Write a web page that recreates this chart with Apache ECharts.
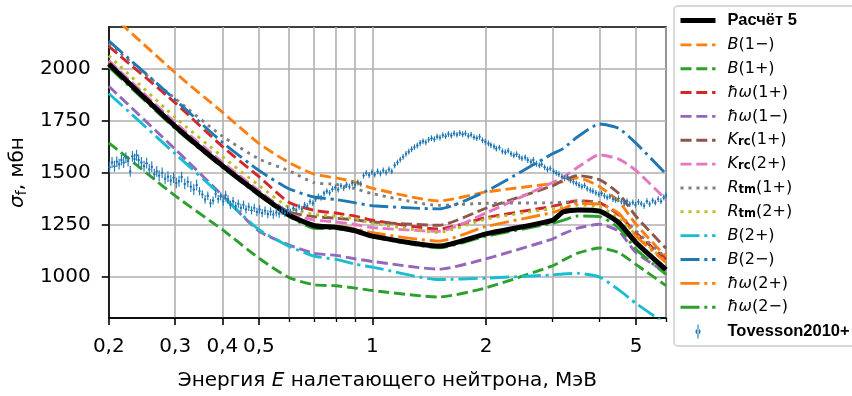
<!DOCTYPE html>
<html><head><meta charset="utf-8">
<script src="https://cdn.jsdelivr.net/npm/echarts@6/dist/echarts.min.js"></script>
<style>html,body{margin:0;padding:0;background:#fff}#c{width:852px;height:396px}</style>
</head><body><div id="c"></div>
<script>
// ---- data (energy in MeV, cross-section in mb) ----
const energy = [0.2, 0.3, 0.4, 0.5, 0.6, 0.7, 0.8, 0.9, 1.0, 1.5, 2, 3, 3.2, 3.5, 4, 4.5, 5, 6];
const calc5  = [2022, 1722, 1533, 1398, 1296, 1244, 1237, 1220, 1194, 1146, 1205, 1270, 1310, 1320, 1314, 1258, 1162, 1033];
const b1m    = [2270, 1980, 1790, 1640, 1548, 1492, 1474, 1454, 1424, 1363, 1406, 1447, 1456, 1474, 1432, 1360, 1250, 1095];
const b1p    = [1643, 1388, 1225, 1088, 995, 960, 955, 944, 932, 901, 945, 1051, 1078, 1112, 1137, 1114, 1057, 956];
const hw1p   = [2107, 1835, 1625, 1480, 1357, 1318, 1305, 1290, 1270, 1228, 1283, 1337, 1350, 1364, 1354, 1296, 1209, 1082];
const hw1m   = [1915, 1612, 1390, 1218, 1152, 1111, 1101, 1085, 1072, 1035, 1085, 1180, 1205, 1232, 1251, 1217, 1114, 1019];
const krc1p  = [2032, 1735, 1545, 1410, 1310, 1288, 1280, 1272, 1262, 1246, 1328, 1436, 1462, 1485, 1465, 1398, 1288, 1135];
const krc2p  = [2038, 1740, 1550, 1412, 1302, 1272, 1262, 1250, 1235, 1217, 1305, 1452, 1477, 1525, 1585, 1564, 1509, 1370];
const rtm1p  = [2120, 1855, 1675, 1565, 1509, 1451, 1443, 1422, 1398, 1342, 1352, 1354, 1357, 1360, 1352, 1300, 1218, 1090];
const rtm2p  = [2062, 1765, 1576, 1438, 1333, 1298, 1290, 1278, 1256, 1212, 1276, 1327, 1335, 1343, 1335, 1280, 1200, 1070];
const b2p    = [1880, 1590, 1385, 1225, 1146, 1098, 1082, 1059, 1045, 985, 992, 1007, 1012, 1015, 997, 935, 870, 770];
const b2m    = [2133, 1850, 1645, 1510, 1422, 1382, 1370, 1354, 1340, 1325, 1410, 1590, 1615, 1672, 1733, 1712, 1640, 1493];
const hw2p   = [2025, 1725, 1537, 1402, 1300, 1250, 1242, 1230, 1210, 1170, 1240, 1307, 1325, 1351, 1348, 1303, 1193, 1067];
const hw2m   = [2008, 1712, 1525, 1390, 1290, 1232, 1230, 1215, 1190, 1138, 1193, 1256, 1270, 1291, 1288, 1232, 1130, 1010];

// Tovesson2010+ : [E, sigma, error]
const tovesson = [
[0.201,1525,26],[0.204,1548,26],[0.207,1530,26],[0.210,1552,26],[0.213,1540,26],[0.216,1560,26],[0.219,1548,26],[0.222,1572,26],
[0.225,1555,26],[0.228,1505,26],[0.231,1578,26],[0.234,1565,26],[0.237,1583,26],[0.240,1560,26],[0.244,1548,26],[0.248,1530,26],
[0.252,1545,26],[0.256,1515,26],[0.260,1528,26],[0.264,1492,26],[0.268,1505,26],[0.272,1485,26],[0.277,1498,26],[0.282,1470,26],
[0.287,1480,26],[0.292,1462,26],[0.297,1475,26],[0.302,1450,26],[0.307,1458,26],[0.312,1478,26],[0.318,1445,26],[0.324,1455,26],
[0.330,1432,26],[0.336,1418,26],[0.342,1440,26],[0.348,1410,20],[0.354,1395,20],[0.360,1370,20],[0.366,1388,20],[0.372,1352,20],
[0.378,1365,20],[0.384,1398,20],[0.390,1372,20],[0.396,1385,20],[0.402,1360,20],[0.408,1392,20],[0.414,1370,20],[0.420,1345,20],
[0.427,1362,20],[0.434,1338,20],[0.441,1350,20],[0.448,1330,20],[0.455,1345,20],[0.462,1322,20],[0.470,1335,20],[0.478,1318,20],
[0.486,1330,20],[0.494,1310,20],[0.502,1322,20],[0.510,1305,20],[0.519,1316,20],[0.528,1300,20],[0.537,1312,20],[0.546,1298,20],
[0.556,1308,20],[0.566,1302,20],[0.576,1315,20],[0.586,1306,20],[0.596,1320,20],[0.606,1312,14],[0.617,1328,14],[0.628,1318,14],
[0.639,1335,14],[0.650,1326,14],[0.661,1345,14],[0.672,1338,14],[0.683,1360,14],[0.695,1352,14],[0.707,1372,14],[0.719,1385,14],
[0.731,1378,14],[0.744,1400,14],[0.757,1410,14],[0.770,1402,14],[0.783,1420,14],[0.797,1428,14],[0.811,1418,14],[0.825,1436,14],
[0.839,1425,14],[0.854,1442,14],[0.869,1432,14],[0.884,1448,14],[0.899,1440,14],[0.915,1452,14],[0.931,1445,14],[0.947,1485,14],
[0.963,1498,14],[0.980,1488,14],[0.997,1502,14],[1.014,1490,14],[1.032,1505,14],[1.050,1495,14],[1.068,1510,14],[1.087,1500,14],
[1.106,1515,14],[1.125,1505,14],[1.145,1535,14],[1.165,1548,14],[1.185,1562,14],[1.206,1575,14],[1.227,1590,14],[1.248,1600,14],
[1.270,1612,14],[1.292,1622,14],[1.315,1630,14],[1.338,1642,14],[1.361,1650,14],[1.385,1645,14],[1.409,1658,14],[1.434,1665,14],
[1.459,1660,14],[1.484,1672,14],[1.510,1668,14],[1.536,1680,14],[1.563,1675,14],[1.590,1685,14],[1.618,1678,14],[1.646,1688,14],
[1.675,1682,14],[1.704,1690,14],[1.734,1684,14],[1.764,1688,14],[1.795,1676,14],[1.826,1682,14],[1.858,1670,14],[1.890,1665,14],
[1.923,1672,14],[1.957,1655,14],[1.991,1648,14],[2.03,1640,14],[2.06,1632,14],[2.10,1625,14],[2.13,1615,14],[2.17,1620,14],
[2.21,1602,14],[2.25,1598,14],[2.29,1605,14],[2.33,1590,14],[2.37,1582,14],[2.41,1588,14],[2.45,1575,14],[2.49,1568,14],
[2.54,1572,14],[2.58,1560,14],[2.63,1552,14],[2.67,1560,14],[2.72,1542,14],[2.77,1535,14],[2.81,1540,14],[2.86,1525,14],
[2.91,1515,14],[2.96,1520,14],[3.02,1505,14],[3.07,1498,14],[3.12,1492,14],[3.18,1480,14],[3.23,1472,14],[3.29,1478,14],
[3.35,1462,14],[3.41,1455,14],[3.47,1448,14],[3.53,1440,14],[3.59,1432,14],[3.65,1438,14],[3.71,1422,14],[3.78,1415,14],
[3.84,1410,14],[3.91,1402,14],[3.98,1395,14],[4.05,1400,14],[4.12,1388,14],[4.19,1380,14],[4.26,1385,14],[4.34,1372,14],
[4.41,1368,14],[4.49,1375,14],[4.57,1360,14],[4.65,1352,14],[4.73,1362,14],[4.81,1348,14],[4.90,1356,14],[4.98,1345,14],
[5.07,1358,14],[5.16,1350,14],[5.25,1340,14],[5.34,1362,14],[5.43,1348,14],[5.53,1365,14],[5.62,1355,14],[5.72,1372,14],
[5.82,1362,14],[5.92,1380,14],[6.00,1390,14]
];

const xMajorTicks  = [0.2, 0.3, 0.4, 0.5, 1, 2, 5];
const xMajorLabels = ['0,2', '0,3', '0,4', '0,5', '1', '2', '5'];
const xMinorTicks  = [0.6, 0.7, 0.8, 0.9, 3, 4, 6];
const yTicks = [1000, 1250, 1500, 1750, 2000];
const xMin = 0.2, xMax = 6, yMin = 800, yMax = 2200;

// ---- styles ----
const LW = 2.9;
const DASH = [11, 4.8], DOT = [3, 5], DASHDOT = [19, 4.8, 3, 4.8];
const curves = [
  {name: 'Расчёт 5', data: calc5, color: '#000000', type: 'solid', width: 5, z: 3, label: '{b|Расчёт 5}'},
  {name: 'B(1−)', data: b1m, color: '#ff7f0e', type: DASH, width: LW, label: '{it|B}{rm|(1−)}'},
  {name: 'B(1+)', data: b1p, color: '#2ca02c', type: DASH, width: LW, label: '{it|B}{rm|(1+)}'},
  {name: 'ħω(1+)', data: hw1p, color: '#d62728', type: DASH, width: LW, label: '{it|ħω}{rm|(1+)}'},
  {name: 'ħω(1−)', data: hw1m, color: '#9467bd', type: DASH, width: LW, label: '{it|ħω}{rm|(1−)}'},
  {name: 'Krc(1+)', data: krc1p, color: '#8c564b', type: DASH, width: LW, label: '{it|K}{sub|rc}{rm|(1+)}'},
  {name: 'Krc(2+)', data: krc2p, color: '#e377c2', type: DASH, width: LW, label: '{it|K}{sub|rc}{rm|(2+)}'},
  {name: 'Rtm(1+)', data: rtm1p, color: '#7f7f7f', type: DOT, width: LW, label: '{it|R}{sub|tm}{rm|(1+)}'},
  {name: 'Rtm(2+)', data: rtm2p, color: '#bcbd22', type: DOT, width: LW, label: '{it|R}{sub|tm}{rm|(2+)}'},
  {name: 'B(2+)', data: b2p, color: '#17becf', type: DASHDOT, width: LW, label: '{it|B}{rm|(2+)}'},
  {name: 'B(2−)', data: b2m, color: '#1f77b4', type: DASHDOT, width: LW, label: '{it|B}{rm|(2−)}'},
  {name: 'ħω(2+)', data: hw2p, color: '#ff7f0e', type: DASHDOT, width: LW, label: '{it|ħω}{rm|(2+)}'},
  {name: 'ħω(2−)', data: hw2m, color: '#2ca02c', type: DASHDOT, width: LW, label: '{it|ħω}{rm|(2−)}'}
];
const labelMap = {};
curves.forEach(c => labelMap[c.name] = c.label);
labelMap['Tovesson2010+'] = '{b|Tovesson2010+}';

const series = curves.map(c => ({
  name: c.name, type: 'line', xAxisIndex: 0, yAxisIndex: 0, z: c.z || 2,
  data: energy.map((e, i) => [Math.log10(e), c.data[i]]),
  symbol: 'none', smooth: 0.2, clip: true,
  lineStyle: {color: c.color, width: c.width, type: c.type, cap: 'butt'},
  itemStyle: {color: c.color},
  emphasis: {disabled: true}
}));
series.push({
  name: 'Tovesson2010+', type: 'custom', xAxisIndex: 0, yAxisIndex: 0, clip: true, z: 4,
  itemStyle: {color: '#1f77b4'},
  encode: {x: 0, y: 1},
  data: tovesson.map(p => [Math.log10(p[0]), p[1], p[2]]),
  renderItem: function (params, api) {
    const x = api.value(0), y = api.value(1), e = api.value(2);
    const t = api.coord([x, y + e]), b = api.coord([x, y - e]), c = api.coord([x, y]);
    return {type: 'group', children: [
      {type: 'line', shape: {x1: t[0], y1: t[1], x2: b[0], y2: b[1]}, style: {stroke: '#1f77b4', lineWidth: 1.1}},
      {type: 'circle', shape: {cx: c[0], cy: c[1], r: 1.2}, style: {fill: '#1f77b4'}}
    ]};
  }
});

const legendData = curves.map(c => ({
  name: c.name,
  lineStyle: {width: c.width, type: c.type, color: c.color},
  itemStyle: {opacity: 0}
}));
legendData.push({
  name: 'Tovesson2010+',
  icon: 'path://M2,0h1.1v14h-1.1z M0,7a2.55,2.55 0 1,0 5.1,0a2.55,2.55 0 1,0 -5.1,0z',
  itemStyle: {color: '#1f77b4', opacity: 1}
});

const FONT = 'DejaVu Sans';
const gridLine = {show: true, lineStyle: {color: '#b0b0b0', width: 1.6}};
const xAxisBase = {
  type: 'value', min: Math.log10(xMin), max: Math.log10(xMax), position: 'bottom', gridIndex: 0
};

const chart = echarts.init(document.getElementById('c'), null, {renderer: 'canvas'});
chart.setOption({
  animation: false,
  backgroundColor: '#ffffff',
  grid: {left: 108, right: 186, top: 27, bottom: 73, show: true, borderColor: '#000', borderWidth: 1.6, backgroundColor: 'transparent', containLabel: false},
  xAxis: [
    Object.assign({}, xAxisBase, {
      name: '{rm|Энергия }{it|E}{rm| налетающего нейтрона, МэВ}',
      nameLocation: 'middle', nameGap: 53,
      nameTextStyle: {rich: {
        rm: {fontFamily: FONT, fontSize: 20, color: '#000'},
        it: {fontFamily: FONT, fontSize: 20, fontStyle: 'italic', color: '#000'}
      }},
      axisLine: {show: true, onZero: false, lineStyle: {color: '#000', width: 1.6}},
      axisTick: {show: true, inside: false, length: 7, lineStyle: {color: '#000', width: 1.6}, customValues: xMajorTicks.map(Math.log10)},
      axisLabel: {show: true, margin: 19, fontFamily: FONT, fontSize: 20, color: '#000', customValues: xMajorTicks.map(Math.log10),
        formatter: function (v) {
          const e = Math.pow(10, v); let best = 0;
          for (let i = 1; i < xMajorTicks.length; i++) if (Math.abs(xMajorTicks[i] - e) < Math.abs(xMajorTicks[best] - e)) best = i;
          return xMajorLabels[best];
        }},
      splitLine: gridLine
    }),
    Object.assign({}, xAxisBase, {
      axisLine: {show: false, onZero: false},
      axisTick: {show: true, inside: false, length: 4, lineStyle: {color: '#000', width: 1.3}, customValues: xMinorTicks.map(Math.log10)},
      axisLabel: {show: false, customValues: xMinorTicks.map(Math.log10)},
      splitLine: gridLine
    })
  ],
  yAxis: [{
    type: 'value', min: yMin, max: yMax,
    name: '{it|σ}{sub|f}{rm|, мбн}', nameLocation: 'middle', nameGap: 78,
    nameTextStyle: {rich: {
      rm: {fontFamily: FONT, fontSize: 20, color: '#000', lineHeight: 22},
      it: {fontFamily: FONT, fontSize: 20, fontStyle: 'italic', color: '#000', lineHeight: 22},
      sub: {fontFamily: FONT, fontSize: 14, color: '#000', lineHeight: 8, verticalAlign: 'bottom'}
    }},
    axisLine: {show: true, onZero: false, lineStyle: {color: '#000', width: 1.6}},
    axisTick: {show: true, inside: false, length: 7, lineStyle: {color: '#000', width: 1.6}, customValues: yTicks},
    axisLabel: {show: true, margin: 18, fontFamily: FONT, fontSize: 20, color: '#000', customValues: yTicks, formatter: v => String(v)},
    splitLine: gridLine
  }],
  legend: {
    show: true, orient: 'vertical', left: 674, top: 6,
    padding: [6, 14, 6, 4], itemWidth: 35, itemHeight: 14, itemGap: 7.85,
    backgroundColor: '#ffffff', borderColor: '#cccccc', borderWidth: 1.4, borderRadius: 4,
    selectedMode: false, align: 'left',
    data: legendData,
    formatter: name => labelMap[name],
    textStyle: {
      padding: [0, 0, 0, 7],
      rich: {
        b:  {fontFamily: 'Liberation Sans', fontWeight: 'bold', fontSize: 16.5, color: '#000', lineHeight: 16},
        rm: {fontFamily: FONT, fontSize: 16, color: '#000', lineHeight: 16},
        it: {fontFamily: FONT, fontSize: 16, fontStyle: 'italic', color: '#000', lineHeight: 16},
        sub: {fontFamily: FONT, fontSize: 11.5, fontWeight: 'bold', color: '#000', lineHeight: 7, verticalAlign: 'bottom'}
      }
    }
  },
  series: series
});
</script>
</body></html>
